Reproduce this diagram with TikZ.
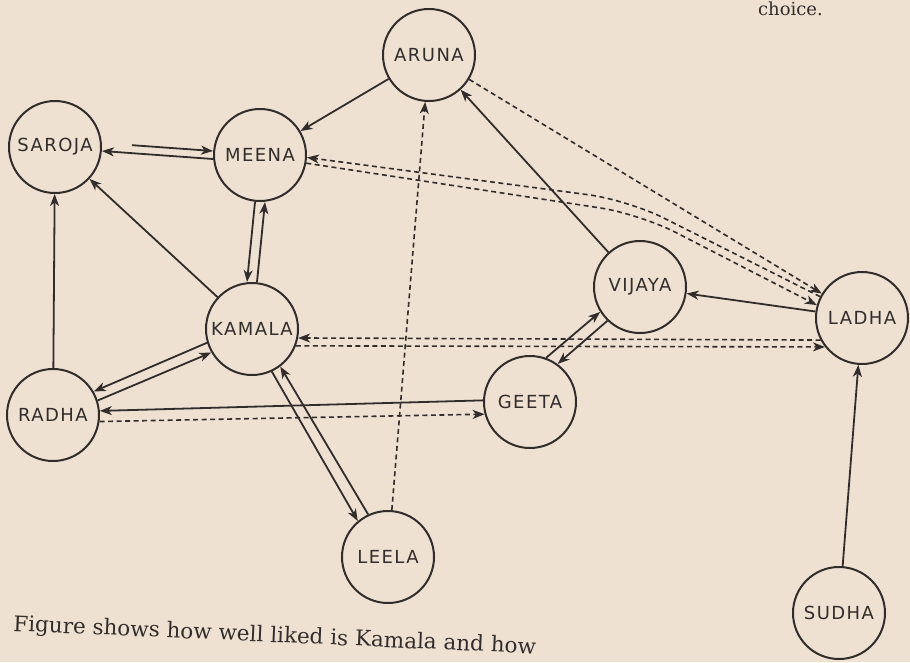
\documentclass[tikz,border=0pt]{standalone}
\usepackage{fontspec}
\usetikzlibrary{arrows.meta}
\newfontfamily\namefont{DejaVu Sans}[LetterSpace=8]
\newfontfamily\captionfont{DejaVu Serif}
\definecolor{paper}{RGB}{238, 225, 209}
\definecolor{ink}{RGB}{50, 45, 42}

\begin{document}
\begin{tikzpicture}[x=1pt, y=-1pt,
    girl/.style={circle, draw=ink, line width=2pt, minimum size=92pt, inner sep=0pt,
        text=ink, font=\namefont\fontsize{18}{20}\selectfont},
    choice/.style={->, draw=ink, line width=1.8pt},
    reject/.style={->, draw=ink, line width=1.6pt, dash pattern=on 5pt off 3.5pt},
    >={Stealth[length=12pt, width=9pt, inset=3.5pt]}]

    % Paper
    \fill[paper] (0,0) rectangle (910,662);
    \useasboundingbox (0,0) rectangle (910,662);

    % Girls
    \node[girl] (aruna) at (429,55) {ARUNA};
    \node[girl] (saroja) at (55,147) {SAROJA};
    \node[girl] (meena) at (260,155) {MEENA};
    \node[girl] (kamala) at (252,329) {KAMALA};
    \node[girl] (radha) at (53,415) {RADHA};
    \node[girl] (geeta) at (530,402) {GEETA};
    \node[girl] (vijaya) at (640,287) {VIJAYA};
    \node[girl] (ladha) at (862,318) {LADHA};
    \node[girl] (leela) at (388,557) {LEELA};
    \node[girl] (sudha) at (839,613) {SUDHA};

    % Bends of the Meena--Ladha pair
    \coordinate (bendup) at (628,200);
    \coordinate (benddown) at (640,214);

    % Choices
    \draw[choice] (aruna) -- (meena);
    \draw[choice, shorten <=30pt] ([yshift=4pt]saroja.east) -- ([yshift=4pt]meena.west);
    \draw[choice] ([yshift=-4pt]meena.west) -- ([yshift=-4pt]saroja.east);
    \draw[choice] ([xshift=-5pt]meena.south) -- ([xshift=-5pt]kamala.north);
    \draw[choice] ([xshift=5pt]kamala.north) -- ([xshift=5pt]meena.south);
    \draw[choice] (kamala) -- (saroja);
    \draw[choice] (radha) -- (saroja);
    \draw[choice] (kamala.197) -- (radha.30);
    \draw[choice] (radha.18) -- (kamala.210);
    \draw[choice] (geeta.178) -- (radha.5);
    \draw[choice] (kamala.295) -- (leela.130);
    \draw[choice] (leela.115) -- (kamala.307);
    \draw[choice] (vijaya) -- (aruna);
    \draw[choice] (geeta.70) -- (vijaya.212);
    \draw[choice] (vijaya.226) -- (geeta.54);
    \draw[choice] (ladha) -- (vijaya);
    \draw[choice] (sudha) -- (ladha);

    % Rejections
    \draw[reject] (radha.-8) -- (geeta.195);
    \draw[reject] (leela) -- (aruna);
    \draw[reject] (aruna) -- (ladha);
    \draw[reject, rounded corners=40pt] (ladha.153) -- (bendup) -- (meena.-3);
    \draw[reject, rounded corners=40pt] (meena.-10) -- (benddown) -- (ladha.164);
    \draw[reject] (ladha.208) -- (kamala.-11);
    \draw[reject] (kamala.-21) -- (ladha.218);

    % Texts round the figure
    \node[anchor=base east, inner sep=0pt, text=ink, font=\captionfont\fontsize{18}{20}\selectfont]
        (fragment) at (823,15) {choice.};
    \node[anchor=base west, inner sep=0pt, rotate=-2.5, text=ink,
        font=\captionfont\fontsize{21.5}{24}\selectfont]
        (caption) at (13,631) {Figure shows how well liked is Kamala and how};
\end{tikzpicture}
\end{document}
